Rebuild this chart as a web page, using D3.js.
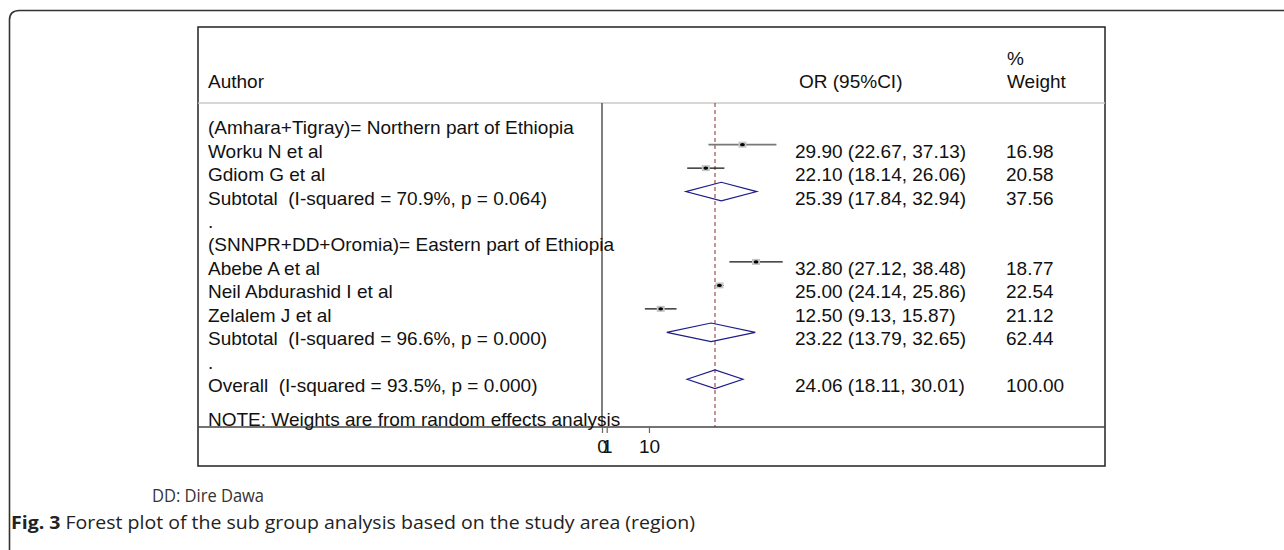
<!DOCTYPE html>
<html>
<head>
<meta charset="utf-8">
<script src="https://cdn.jsdelivr.net/npm/d3@7/dist/d3.min.js"></script>
<style>
  html, body { margin: 0; padding: 0; background: #fff; }
  svg { display: block; }
  text { white-space: pre; }
</style>
</head>
<body>
<svg id="chart" width="1284" height="550"></svg>
<script>
// ---------- data ----------
const labels = [
  "(Amhara+Tigray)= Northern part of Ethiopia",
  "Worku N et al",
  "Gdiom G et al",
  "Subtotal  (I-squared = 70.9%, p = 0.064)",
  ".",
  "(SNNPR+DD+Oromia)= Eastern part of Ethiopia",
  "Abebe A et al",
  "Neil Abdurashid I et al",
  "Zelalem J et al",
  "Subtotal  (I-squared = 96.6%, p = 0.000)",
  ".",
  "Overall  (I-squared = 93.5%, p = 0.000)"
];
const rowType = ["header","study","study","pooled","blank","header","study","study","study","pooled","blank","pooled"];
const estimates = [null, 29.90, 22.10, 25.39, null, null, 32.80, 25.00, 12.50, 23.22, null, 24.06];
const lowerCI   = [null, 22.67, 18.14, 17.84, null, null, 27.12, 24.14, 9.13, 13.79, null, 18.11];
const upperCI   = [null, 37.13, 26.06, 32.94, null, null, 38.48, 25.86, 15.87, 32.65, null, 30.01];
const weights   = [null, 16.98, 20.58, 37.56, null, null, 18.77, 22.54, 21.12, 62.44, null, 100.00];
const ciLabels  = [null, "29.90 (22.67, 37.13)", "22.10 (18.14, 26.06)", "25.39 (17.84, 32.94)", null, null,
                   "32.80 (27.12, 38.48)", "25.00 (24.14, 25.86)", "12.50 (9.13, 15.87)", "23.22 (13.79, 32.65)", null,
                   "24.06 (18.11, 30.01)"];
const weightLabels = [null, "16.98", "20.58", "37.56", null, null, "18.77", "22.54", "21.12", "62.44", null, "100.00"];
const tickValues = [0, 1, 10];
const tickLabels = ["0", "1", "10"];
const overallEstimate = 24.06;
const headerAuthor = "Author";
const headerOR = "OR (95%CI)";
const headerWeight = ["%", "Weight"];
const noteText = "NOTE: Weights are from random effects analysis";
const footText = "DD: Dire Dawa";
const captionBold = "Fig. 3";
const captionText = " Forest plot of the sub group analysis based on the study area (region)";

// ---------- layout ----------
const svg = d3.select("#chart");
const FONT = "'Liberation Sans', Arial, Helvetica, sans-serif";
const FS = 19;

const box = {x0: 198, y0: 27, x1: 1105, y1: 466};
const sepY = 103, axisY = 427;
const x = d3.scaleLinear().domain([0, 10]).range([602, 648.97]);
const y = d3.scaleLinear().domain([0, 11]).range([121.2, 379.2]);
const textDy = 13;

// outer rounded frame (top-left corner)
svg.append("path")
  .attr("d", "M9.5,550 L9.5,20 Q9.5,10.5 19.5,10.5 L1284,10.5")
  .attr("fill", "none").attr("stroke", "#333").attr("stroke-width", 1.6);

// inner box
svg.append("rect")
  .attr("x", box.x0).attr("y", box.y0)
  .attr("width", box.x1 - box.x0).attr("height", box.y1 - box.y0)
  .attr("fill", "none").attr("stroke", "#222").attr("stroke-width", 1.5);

// header separator
svg.append("line")
  .attr("x1", box.x0).attr("x2", box.x1).attr("y1", sepY).attr("y2", sepY)
  .attr("stroke", "#c8c8c8").attr("stroke-width", 1.5);

// header texts
const t = (xx, yy, s) => svg.append("text").attr("x", xx).attr("y", yy).text(s)
    .attr("font-family", FONT).attr("font-size", FS).attr("fill", "#111");
t(208, 88, headerAuthor);
t(799, 88, headerOR);
t(1007, 64.5, headerWeight[0]);
t(1007, 88, headerWeight[1]);

// null line (x = 0)
svg.append("line")
  .attr("x1", x(0)).attr("x2", x(0)).attr("y1", sepY).attr("y2", axisY)
  .attr("stroke", "#555").attr("stroke-width", 1.5);

// overall dashed line
svg.append("line")
  .attr("x1", x(overallEstimate)).attr("x2", x(overallEstimate)).attr("y1", sepY).attr("y2", axisY)
  .attr("stroke", "#8b2a2a").attr("stroke-width", 1).attr("stroke-dasharray", "4,3");

// rows
const rows = labels.map((lab, i) => ({i, lab, type: rowType[i], est: estimates[i], lo: lowerCI[i], hi: upperCI[i],
  w: weights[i], ci: ciLabels[i], wl: weightLabels[i]}));

rows.forEach(r => {
  t(208, y(r.i) + textDy, r.lab);
  if (r.ci) t(795, y(r.i) + textDy, r.ci);
  if (r.wl) t(1006, y(r.i) + textDy, r.wl);
});

const studies = rows.filter(r => r.type === "study");
const g = svg.append("g");
g.selectAll("line.ci").data(studies).join("line")
  .attr("class", "ci")
  .attr("x1", d => x(d.lo)).attr("x2", d => x(d.hi))
  .attr("y1", d => y(d.i)).attr("y2", d => y(d.i))
  .attr("stroke", (d, k) => k === 0 ? "#777" : "#111").attr("stroke-width", (d, k) => k === 0 ? 1.8 : 1.2);
g.selectAll("rect.wbox").data(studies).join("rect")
  .attr("class", "wbox")
  .attr("x", d => x(d.est) - 4).attr("y", d => y(d.i) - 3)
  .attr("width", 8).attr("height", 6)
  .attr("fill", "#c4c4c4");
g.selectAll("ellipse.pt").data(studies).join("ellipse")
  .attr("class", "pt")
  .attr("cx", d => x(d.est)).attr("cy", d => y(d.i))
  .attr("rx", 2.4).attr("ry", 1.6).attr("fill", "#000");

const pooled = rows.filter(r => r.type === "pooled");
g.selectAll("path.dia").data(pooled).join("path")
  .attr("class", "dia")
  .attr("d", d => {
    const cy = y(d.i), h = 9.3;
    return `M${x(d.lo)},${cy} L${x(d.est)},${cy - h} L${x(d.hi)},${cy} L${x(d.est)},${cy + h} Z`;
  })
  .attr("fill", "none").attr("stroke", "#1c1c8a").attr("stroke-width", 1.2);

// axis
svg.append("line")
  .attr("x1", box.x0).attr("x2", box.x1).attr("y1", axisY).attr("y2", axisY)
  .attr("stroke", "#444").attr("stroke-width", 1.5);

const axis = d3.axisBottom(x).tickValues(tickValues).tickSize(6).tickPadding(7)
  .tickFormat((d, k) => tickLabels[k]);
const ag = svg.append("g").attr("transform", `translate(0,${axisY})`).call(axis);
ag.select(".domain").remove();
ag.selectAll(".tick line").attr("stroke", "#666").attr("stroke-width", 1.2);
ag.selectAll(".tick text").attr("font-family", FONT).attr("font-size", FS).attr("fill", "#111");

// note
t(208, 426, noteText);

// footnote & caption
svg.append("text").attr("x", 152).attr("y", 502).text(footText)
  .attr("font-family", "'Open Sans', sans-serif").attr("font-size", 19).attr("fill", "#333")
  .attr("textLength", 112).attr("lengthAdjust", "spacingAndGlyphs");

const cap = svg.append("text").attr("x", 11).attr("y", 529)
  .attr("font-family", "'Open Sans', sans-serif").attr("font-size", 18.5).attr("fill", "#222");
cap.append("tspan").attr("font-weight", "bold").text(captionBold);
cap.append("tspan").text(captionText);
cap.attr("textLength", 684).attr("lengthAdjust", "spacingAndGlyphs");
</script>
</body>
</html>
